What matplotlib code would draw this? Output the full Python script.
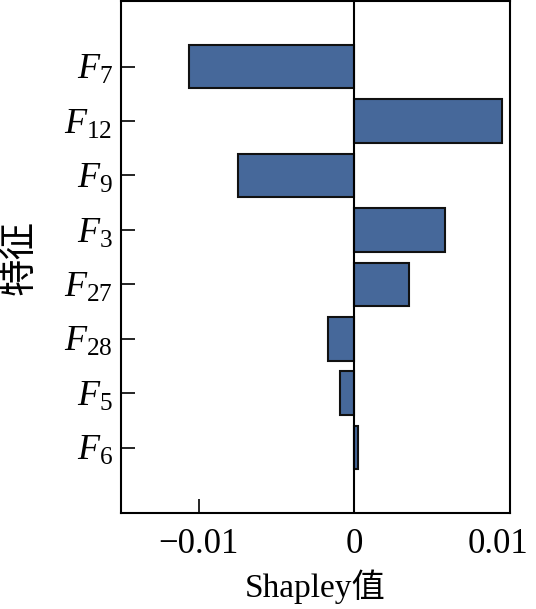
import numpy as np
import matplotlib.pyplot as plt
from matplotlib.transforms import ScaledTranslation

plt.rcParams['font.family'] = ['Liberation Serif', 'Noto Sans CJK SC']
plt.rcParams['mathtext.fontset'] = 'custom'
plt.rcParams['mathtext.rm'] = 'Liberation Serif'
plt.rcParams['mathtext.it'] = 'Liberation Serif:italic'

features = ['F_{7}', 'F_{12}', 'F_{9}', 'F_{3}', 'F_{27}', 'F_{28}', 'F_{5}', 'F_{6}']
shap = [-0.0106, 0.0095, -0.0075, 0.0058, 0.0035, -0.0017, -0.0009, 0.0002]
xticks = [-0.01, 0, 0.01]
xticklabels = ['\u22120.01', '0', '0.01']

ypos = np.arange(len(features))[::-1]

fig = plt.figure(figsize=(5.36, 6.09), dpi=100)
ax = fig.add_axes([0.2257, 0.1576, 0.7258, 0.8405])

ax.barh(ypos, shap, height=0.8, color='#46689a', edgecolor='#111111', linewidth=1.5, zorder=2)
ax.axvline(0, color='black', linewidth=1.5, zorder=3)

ax.set_xlim(-0.015, 0.01)
ax.set_ylim(-1.2, 8.2)
ax.set_xticks(xticks)
ax.set_xticklabels(xticklabels)
ax.set_yticks(ypos)
ax.set_yticklabels(['$' + f + '$' for f in features])
ax.tick_params(axis='both', direction='in', length=10, width=1.2)
ax.tick_params(axis='x', labelsize=25, pad=11)
ax.tick_params(axis='y', labelsize=26, pad=6)
for s in ax.spines.values():
    s.set_linewidth(1.5)

# last x label sits inside the figure edge
lab = ax.get_xticklabels()[-1]
lab.set_transform(lab.get_transform() + ScaledTranslation(-0.12, 0, fig.dpi_scale_trans))

ax.set_xlabel('Shapley值', fontsize=24, labelpad=6)
ax.set_ylabel('特征', fontsize=27)
ax.yaxis.set_label_coords(-0.215, 0.5)

fig.savefig('out.png', dpi=100)
